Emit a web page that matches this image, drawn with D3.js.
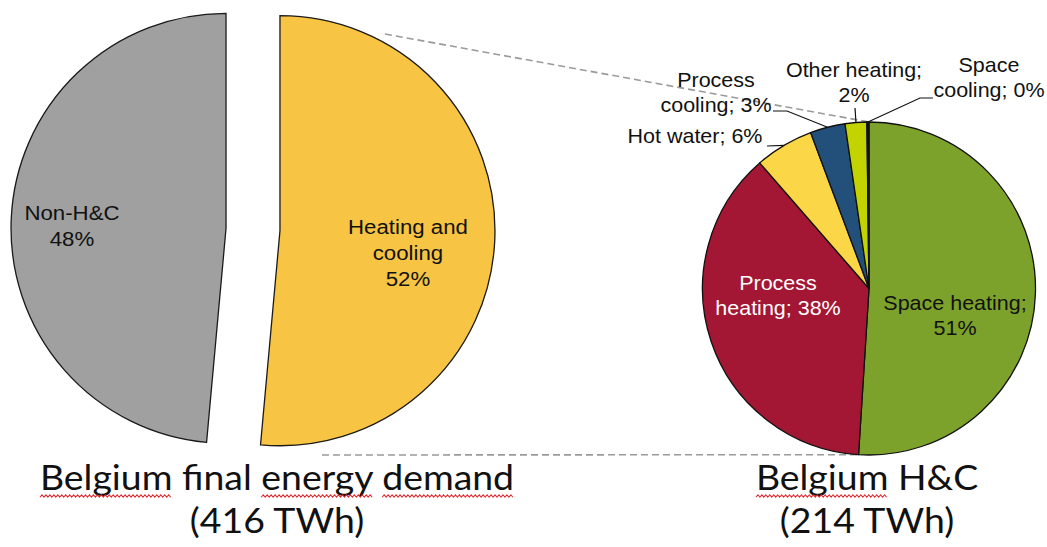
<!DOCTYPE html>
<html>
<head>
<meta charset="utf-8">
<script src="https://cdn.jsdelivr.net/npm/d3@7/dist/d3.min.js"></script>
<style>
  body { margin: 0; background: #fff; }
  svg { display: block; }
</style>
</head>
<body>
<svg id="chart" width="1047" height="547"></svg>
<script>
// data
const demandCats = ["Heating and cooling", "Non-H&C"]
const demandTWh = [214, 202]
const demandPct = ["52%", "48%"]

const hcCats = ["Space heating", "Process heating", "Hot water", "Process cooling", "Other heating", "Space cooling"]
const hcShare = [51.0, 37.6, 5.7, 3.4, 2.1, 0.2]

const titles = ["Belgium final energy demand", "Belgium H&C"]
const totals = ["(416 TWh)", "(214 TWh)"]

// colours
const demandColor = { "Heating and cooling": "#F7C443", "Non-H&C": "#A0A0A0" }
const hcColor = {
  "Space heating": "#7CA22C",
  "Process heating": "#A31734",
  "Hot water": "#FBD647",
  "Process cooling": "#22507A",
  "Other heating": "#C3D300",
  "Space cooling": "#111111"
}

let svg = d3.select("#chart")

// ---------- left pie (exploded) ----------
let left = { cx: 253, cy: 229.5, r: 215, explode: 27 }

let pieL = d3.pie().sort(null).value(d => d)
let arcL = d3.arc().innerRadius(0).outerRadius(left.r)
let slicesL = pieL(demandTWh)

let gL = svg.append("g")
slicesL.forEach(function (s, i) {
  let mid = (s.startAngle + s.endAngle) / 2
  let tx = left.cx + left.explode * Math.sin(mid)
  let ty = left.cy - left.explode * Math.cos(mid)
  gL.append("path")
    .attr("transform", "translate(" + tx + "," + ty + ")")
    .attr("d", arcL(s))
    .attr("fill", demandColor[demandCats[i]])
    .attr("stroke", "#1a1a1a")
    .attr("stroke-width", 1.3)
})

// ---------- right pie ----------
let right = { cx: 869, cy: 288.5, r: 166.5 }
let pieR = d3.pie().sort(null).value(d => d)
let arcR = d3.arc().innerRadius(0).outerRadius(right.r)
let slicesR = pieR(hcShare)

function onArc(angle, r) {
  return [right.cx + r * Math.sin(angle), right.cy - r * Math.cos(angle)]
}

// dashed connectors (drawn under the labels)
let topEnd = onArc(slicesR[0].startAngle, right.r)
let botEnd = onArc(slicesR[0].endAngle, right.r)
svg.append("line")
  .attr("x1", 385).attr("y1", 34)
  .attr("x2", topEnd[0]).attr("y2", topEnd[1])
  .attr("stroke", "#9a9a9a").attr("stroke-width", 1.6)
  .attr("stroke-dasharray", "7,4")
svg.append("line")
  .attr("x1", 322).attr("y1", 455)
  .attr("x2", botEnd[0]).attr("y2", botEnd[1])
  .attr("stroke", "#9a9a9a").attr("stroke-width", 1.6)
  .attr("stroke-dasharray", "7,4")

let gR = svg.append("g").attr("transform", "translate(" + right.cx + "," + right.cy + ")")
gR.selectAll("path")
  .data(slicesR)
  .enter()
  .append("path")
  .attr("d", arcR)
  .attr("fill", (d, i) => hcColor[hcCats[i]])
  .attr("stroke", "#111")
  .attr("stroke-width", 1.3)

// ---------- labels ----------
const labelFont = "'Liberation Sans', Arial, sans-serif"

function multiLabel(x, y, lines, opts) {
  let g = svg.append("g")
    .attr("transform", "translate(" + x + "," + y + ") scale(" + opts.sx + ",1)")
  let t = g.append("text")
    .attr("text-anchor", "middle")
    .attr("font-family", labelFont)
    .attr("font-size", opts.size)
    .attr("fill", opts.color || "#111")
  lines.forEach(function (ln, k) {
    t.append("tspan").attr("x", 0).attr("y", k * opts.lh).text(ln)
  })
  return g
}

// left pie labels: [x, y of first baseline]
const leftLabelPos = { "Heating and cooling": [408, 234], "Non-H&C": [72, 220] }
const leftLines = {
  "Heating and cooling": ["Heating and", "cooling"],
  "Non-H&C": ["Non-H&C"]
}
demandCats.forEach(function (c, i) {
  let p = leftLabelPos[c]
  multiLabel(p[0], p[1], leftLines[c].concat([demandPct[i]]), { size: 21, sx: 1.06, lh: 26 })
})

// right pie labels
const hcLabel = {
  "Space heating":   { pos: [955, 310], brk: 2, color: "#111" },
  "Process heating": { pos: [778, 290], brk: 1, color: "#fff" },
  "Hot water":       { pos: [695, 143], brk: 0, lead: [[767, 146]] },
  "Process cooling": { pos: [716, 87],  brk: 1, lead: [[773, 111], [787, 111]] },
  "Other heating":   { pos: [854, 77],  brk: 2, lead: [[855, 108]] },
  "Space cooling":   { pos: [989, 72],  brk: 1, lead: [[933, 98], [920, 98]] }
}

hcCats.forEach(function (c, i) {
  let L = hcLabel[c]
  let words = (c + "; " + Math.round(hcShare[i]) + "%").split(" ")
  let lines = L.brk ? [words.slice(0, L.brk).join(" "), words.slice(L.brk).join(" ")] : [words.join(" ")]
  multiLabel(L.pos[0], L.pos[1], lines, { size: 20, sx: 1.075, lh: 25, color: L.color })

  if (L.lead) {
    let s = slicesR[i]
    let end = onArc((s.startAngle + s.endAngle) / 2, right.r)
    svg.append("path")
      .attr("d", d3.line()(L.lead.concat([end])))
      .attr("fill", "none")
      .attr("stroke", "#111")
      .attr("stroke-width", 1.2)
  }
})

// ---------- titles ----------
const titleFont = "Lato, Carlito, Calibri, sans-serif"
const titleX = [277, 867]
const squiggleWords = [["Belgium", "energy", "demand"], ["Belgium"]]

titles.forEach(function (tt, i) {
  let g = svg.append("g")
    .attr("transform", "translate(" + titleX[i] + ",490) scale(1.1,1)")
  let t = g.append("text")
    .attr("text-anchor", "middle")
    .attr("font-family", titleFont)
    .attr("font-size", 34)
    .attr("fill", "#111")
    .text(tt)
  g.append("text")
    .attr("text-anchor", "middle")
    .attr("font-family", titleFont)
    .attr("font-size", 34)
    .attr("fill", "#111")
    .attr("y", 43)
    .text(totals[i])

  // red spell-check squiggles
  squiggleWords[i].forEach(function (w) {
    let idx = tt.indexOf(w)
    let a = t.node().getExtentOfChar(idx)
    let b = t.node().getExtentOfChar(idx + w.length - 1)
    let x0 = a.x, x1 = b.x + b.width
    let pts = []
    for (let x = x0, k = 0; x <= x1; x += 1.8, k++) pts.push([x, 6 + (k % 2 ? -1.2 : 1.2)])
    g.append("path")
      .attr("d", d3.line()(pts))
      .attr("fill", "none")
      .attr("stroke", "#e2262b")
      .attr("stroke-width", 1)
  })
})
</script>
</body>
</html>
